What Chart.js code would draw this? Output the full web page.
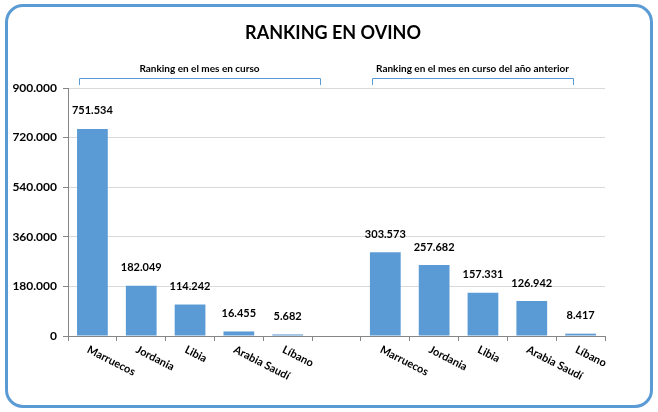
<!DOCTYPE html>
<html lang="es">
<head>
<meta charset="utf-8">
<title>Ranking en ovino</title>
<script src="https://cdn.jsdelivr.net/npm/chart.js@4/dist/chart.umd.min.js"></script>
<style>
  html, body { margin: 0; padding: 0; background: #ffffff; }
  #marco {
    position: absolute; left: 5px; top: 4px;
    width: 642px; height: 398px;
    border: 3px solid #5b9bd5; border-radius: 18px;
  }
  #grafico { position: absolute; left: 0; top: 0; }
</style>
</head>
<body>
<div id="marco"></div>
<canvas id="grafico" width="658" height="412"></canvas>
<script>
// Datos del ranking (exportaciones de ovino)
const titulo = 'RANKING EN OVINO';
const grupoMes = 'Ranking en el mes en curso';
const grupoAnterior = 'Ranking en el mes en curso del año anterior';
const paisesMes = ['Marruecos', 'Jordania', 'Libia', 'Arabia Saudí', 'Líbano'];
const valoresMes = [751534, 182049, 114242, 16455, 5682];
const paisesAnterior = ['Marruecos', 'Jordania', 'Libia', 'Arabia Saudí', 'Líbano'];
const valoresAnterior = [303573, 257682, 157331, 126942, 8417];
const ticksY = [0, 180000, 360000, 540000, 720000, 900000];

(function(){
  const fuente = 'Lato, "Open Sans", sans-serif';
  const azul = '#5b9bd5';
  const gris = '#868686';

  // un hueco vacío entre los dos grupos
  const etiquetas = [...paisesMes, '', ...paisesAnterior];
  const valores = [...valoresMes, null, ...valoresAnterior];

  const formatear = (v) => String(v).replace(/\B(?=(\d{3})+(?!\d))/g, '.');

  const extras = {
    id: 'extras',
    afterDraw(chart) {
      const ctx = chart.ctx;
      const x = chart.scales.x;
      const meta = chart.getDatasetMeta(0);
      ctx.save();

      // título
      ctx.fillStyle = '#000';
      ctx.font = 'bold 18px ' + fuente;
      ctx.textAlign = 'center';
      ctx.textBaseline = 'middle';
      ctx.fillText(titulo, 333, 33);

      // corchetes de grupo
      const corchete = (x1, x2, texto) => {
        ctx.strokeStyle = azul;
        ctx.lineWidth = 1;
        ctx.beginPath();
        ctx.moveTo(x1 + 0.5, 85);
        ctx.lineTo(x1 + 0.5, 78.5);
        ctx.lineTo(x2 + 0.5, 78.5);
        ctx.lineTo(x2 + 0.5, 85);
        ctx.stroke();
        ctx.fillStyle = '#000';
        ctx.font = 'bold 10px ' + fuente;
        ctx.textAlign = 'center';
        ctx.textBaseline = 'middle';
        ctx.fillText(texto, (x1 + x2) / 2, 69);
      };
      corchete(Math.round(x.getPixelForValue(0) - 13), Math.round(x.getPixelForValue(4) + 32), grupoMes);
      corchete(Math.round(x.getPixelForValue(6) - 13), Math.round(x.getPixelForValue(10) - 8), grupoAnterior);

      // valores sobre las barras
      ctx.font = 'bold 11px ' + fuente;
      ctx.fillStyle = '#000';
      ctx.textAlign = 'center';
      ctx.textBaseline = 'middle';
      meta.data.forEach((barra, i) => {
        if (valores[i] == null) return;
        ctx.fillText(formatear(valores[i]), barra.x, barra.y - 18);
      });

      // etiquetas del eje X inclinadas
      ctx.font = 'bold 11px ' + fuente;
      ctx.textAlign = 'left';
      ctx.textBaseline = 'top';
      etiquetas.forEach((texto, i) => {
        if (!texto) return;
        ctx.save();
        ctx.translate(x.getPixelForValue(i) - 2, 344);
        ctx.rotate(27 * Math.PI / 180);
        ctx.fillText(texto, 0, 0);
        ctx.restore();
      });

      ctx.restore();
    }
  };

  new Chart(document.getElementById('grafico').getContext('2d'), {
    type: 'bar',
    data: {
      labels: etiquetas,
      datasets: [{
        data: valores,
        backgroundColor: azul,
        borderWidth: 0,
        categoryPercentage: 1,
        barPercentage: 0.63
      }]
    },
    options: {
      responsive: false,
      animation: false,
      layout: { padding: { left: 0, right: 53, top: 88, bottom: 0 } },
      plugins: {
        legend: { display: false },
        tooltip: { enabled: false },
        title: { display: false }
      },
      scales: {
        x: {
          offset: true,
          grid: {
            offset: true,
            drawOnChartArea: false,
            drawTicks: true,
            tickLength: 5,
            tickColor: gris
          },
          border: { color: gris },
          ticks: { display: false },
          afterFit: (escala) => { escala.height = 76; }
        },
        y: {
          min: 0,
          max: 900000,
          afterBuildTicks: (escala) => { escala.ticks = ticksY.map(v => ({ value: v })); },
          grid: {
            color: '#d9d9d9',
            tickColor: gris,
            tickLength: 5
          },
          border: { color: gris },
          ticks: {
            color: '#000',
            padding: 6,
            font: { family: fuente, size: 12, weight: 'bold' },
            callback: (v) => formatear(v)
          },
          afterFit: (escala) => { escala.width = 68; }
        }
      }
    },
    plugins: [extras]
  });
})();
</script>
</body>
</html>
